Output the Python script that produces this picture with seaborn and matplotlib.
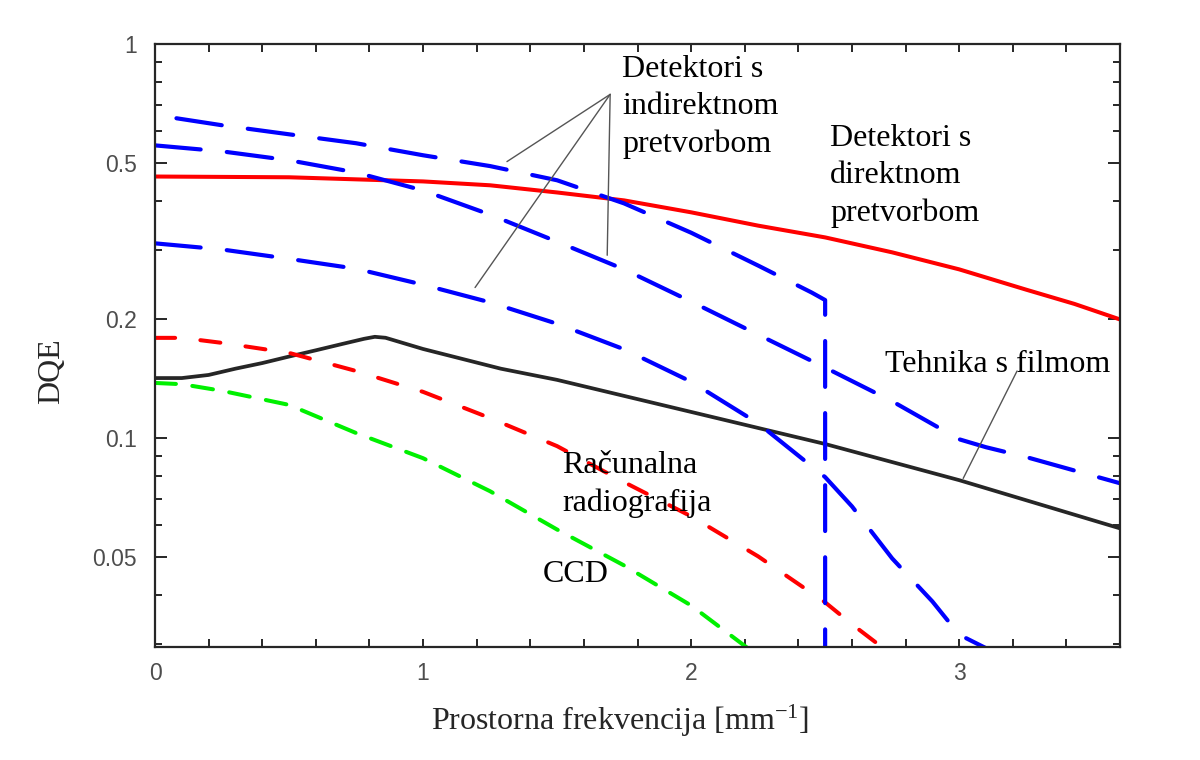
import matplotlib
matplotlib.use("Agg")
import matplotlib.pyplot as plt
import seaborn as sns
from matplotlib.ticker import FixedLocator, FixedFormatter, MultipleLocator

# DQE curves (spatial frequency in 1/mm)
direct_f = [0, 0.5, 1.0, 1.25, 1.5, 1.75, 2.0, 2.25, 2.5, 2.75, 3.0, 3.25, 3.43, 3.6]
direct_dqe = [0.461, 0.459, 0.448, 0.438, 0.420, 0.401, 0.374, 0.346, 0.323, 0.296, 0.268, 0.238, 0.219, 0.200]

indirect1_f = [0.08, 0.25, 0.5, 0.75, 1.0, 1.25, 1.5, 1.75, 2.0, 2.25, 2.45, 2.5, 2.5]
indirect1_dqe = [0.648, 0.622, 0.590, 0.560, 0.522, 0.490, 0.451, 0.394, 0.332, 0.274, 0.234, 0.224, 0.02]

indirect2_f = [0, 0.25, 0.5, 0.75, 1.0, 1.25, 1.5, 1.75, 2.0, 2.25, 2.5, 2.75, 3.0, 3.1, 3.25, 3.6]
indirect2_dqe = [0.553, 0.534, 0.507, 0.472, 0.425, 0.369, 0.315, 0.268, 0.222, 0.183, 0.151, 0.124,
                 0.0993, 0.0948, 0.0895, 0.0768]

indirect3_f = [0, 0.25, 0.5, 0.75, 1.0, 1.25, 1.5, 1.75, 2.0, 2.25, 2.5, 2.6, 2.75, 2.9, 3.0, 3.1]
indirect3_dqe = [0.312, 0.301, 0.285, 0.269, 0.245, 0.221, 0.195, 0.168, 0.139, 0.109, 0.0796, 0.0671,
                 0.0495, 0.0385, 0.0317, 0.0293]

film_f = [0, 0.1, 0.2, 0.3, 0.4, 0.5, 0.6, 0.7, 0.78, 0.82, 0.86, 1.0, 1.29, 1.5, 2.0, 2.5, 3.0, 3.6]
film_dqe = [0.142, 0.142, 0.1446, 0.150, 0.155, 0.161, 0.167, 0.1734, 0.1786, 0.1807, 0.1797, 0.1683,
            0.150, 0.1405, 0.1165, 0.0966, 0.0782, 0.059]

cr_f = [0, 0.1, 0.25, 0.5, 0.75, 1.0, 1.25, 1.5, 1.75, 2.0, 2.25, 2.5, 2.6, 2.7, 2.8]
cr_dqe = [0.1796, 0.1796, 0.1744, 0.1645, 0.148, 0.131, 0.1124, 0.0954, 0.0773, 0.0633, 0.0501, 0.0383,
          0.0337, 0.0299, 0.0263]

ccd_f = [0, 0.1, 0.25, 0.5, 0.75, 1.0, 1.25, 1.5, 1.75, 2.0, 2.22]
ccd_dqe = [0.138, 0.137, 0.1318, 0.1214, 0.103, 0.0889, 0.0733, 0.0586, 0.0475, 0.0376, 0.029]

ytick_vals = [0.05, 0.1, 0.2, 0.5, 1]
ytick_labels = ["0.05", "0.1", "0.2", "0.5", "1"]
yminor_vals = [0.03, 0.04, 0.06, 0.07, 0.08, 0.09, 0.3, 0.4, 0.6, 0.7, 0.8, 0.9]

sns.set_style("ticks")
plt.rcParams["font.family"] = ["Liberation Sans", "DejaVu Sans"]
plt.rcParams["mathtext.fontset"] = "custom"
plt.rcParams["mathtext.rm"] = "Liberation Serif"
plt.rcParams["mathtext.it"] = "Liberation Serif:italic"
serif = ["Liberation Serif", "DejaVu Serif"]

fig = plt.figure(figsize=(12, 7.6), dpi=100)
ax = fig.add_axes([155 / 1200, 1 - 647 / 760, 965 / 1200, 603 / 760])
ax.set_yscale("log")

blue_ls = (0, (11, 6.3))
red_ls = (0, (5, 6.3))
green_ls = (0, (5.2, 4.1))

def draw(f, dqe, color, ls, lw):
    sns.lineplot(x=f, y=dqe, ax=ax, color=color, linewidth=lw, linestyle=ls,
                 estimator=None, sort=False, dash_capstyle="round")

draw(direct_f, direct_dqe, "#ff0000", "-", 2.9)
draw(film_f, film_dqe, "#262626", "-", 2.7)
draw(cr_f, cr_dqe, "#ff0000", red_ls, 2.9)
draw(ccd_f, ccd_dqe, "#00f000", green_ls, 2.9)
draw(indirect1_f, indirect1_dqe, "#0000ff", blue_ls, 3.0)
draw(indirect2_f, indirect2_dqe, "#0000ff", blue_ls, 3.0)
draw(indirect3_f, indirect3_dqe, "#0000ff", blue_ls, 3.0)

ax.set_xlim(0, 3.6)
ax.set_ylim(0.0295, 1)
ax.xaxis.set_major_locator(MultipleLocator(1))
ax.xaxis.set_minor_locator(MultipleLocator(0.2))
ax.yaxis.set_major_locator(FixedLocator(ytick_vals))
ax.yaxis.set_major_formatter(FixedFormatter(ytick_labels))
ax.yaxis.set_minor_locator(FixedLocator(yminor_vals))
ax.yaxis.set_minor_formatter(FixedFormatter([""] * len(yminor_vals)))

for s in ax.spines.values():
    s.set_visible(True)
    s.set_color("#262626")
    s.set_linewidth(1.6)
ax.tick_params(which="both", direction="in", top=True, right=True,
               color="#262626", width=1.4, labelcolor="#4d4d4d", labelsize=16.5)
ax.tick_params(axis="x", which="both", length=6, pad=10.5)
ax.tick_params(axis="y", which="major", length=8.5, pad=13)
ax.tick_params(axis="y", which="minor", length=5)

ax.set_xlabel("Prostorna frekvencija [mm$^{-1}$]", family=serif, fontsize=23)
ax.set_ylabel("DQE", family=serif, fontsize=23)
ax.xaxis.set_label_coords(0.482, -0.093)
ax.yaxis.set_label_coords(-0.092, 0.457)

txt = dict(family=serif, fontsize=23, ha="left", va="top", linespacing=1.38, color="black")
ax.text(1.743, 0.94, "Detektori s\nindirektnom\npretvorbom", **txt)
ax.text(2.519, 0.628, "Detektori s\ndirektnom\npretvorbom", **txt)
ax.text(2.724, 0.167, "Tehnika s filmom", **txt)
ax.text(1.519, 0.0929, "Računalna\nradiografija", **txt)
ax.text(1.448, 0.0491, "CCD", **txt)

line_kw = dict(arrowstyle="-", color="#555555", lw=1.0, shrinkA=0, shrinkB=0)
for end in [(1.313, 0.503), (1.194, 0.241), (1.687, 0.291)]:
    ax.annotate("", xy=end, xytext=(1.698, 0.745), arrowprops=line_kw)
ax.annotate("", xy=(3.015, 0.079), xytext=(3.216, 0.148), arrowprops=line_kw)

fig.savefig("out.png", dpi=100, facecolor="white")
